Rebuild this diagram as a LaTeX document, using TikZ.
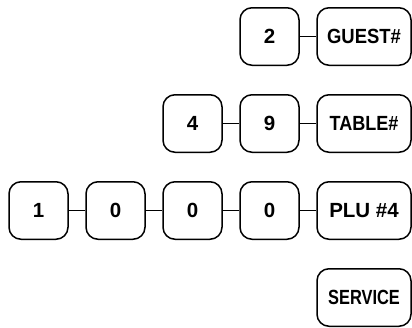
\documentclass[tikz,border=0pt]{standalone}
\usepackage{fontspec}
\setmainfont{Liberation Sans}
\usepackage{graphicx}
\newcommand{\narrowtext}[2]{\scalebox{#1}[1]{#2}}
\begin{document}
\begin{tikzpicture}[x=1pt, y=1pt,
    keycap/.style={draw, line width=1.5pt, rounded corners=12pt,
        minimum width=59pt, minimum height=57.5pt, inner sep=0pt,
        font=\fontsize{20.5}{20.5}\selectfont\bfseries},
    widekey/.style={keycap, minimum width=94pt},
    link/.style={line width=1.5pt}]
    \useasboundingbox (0,0) rectangle (412,-327);

    % Guest count
    \node[keycap] (g2) at (269.5,-36.5) {2};
    \node[widekey] (guest) at (364,-36.5) {\narrowtext{0.9}{GUEST\#}};
    \draw[link] (g2) -- (guest);

    % Table number
    \node[keycap] (t4) at (192.5,-123.5) {4};
    \node[keycap] (t9) at (269.5,-123.5) {9};
    \node[widekey] (table) at (364,-123.5) {\narrowtext{0.88}{TABLE\#}};
    \draw[link] (t4) -- (t9);
    \draw[link] (t9) -- (table);

    % PLU entry
    \node[keycap] (p1) at (38.5,-210.5) {1};
    \node[keycap] (p2) at (115.5,-210.5) {0};
    \node[keycap] (p3) at (192.5,-210.5) {0};
    \node[keycap] (p4) at (269.5,-210.5) {0};
    \node[widekey] (plu) at (364,-210.5) {PLU \#4};
    \draw[link] (p1) -- (p2);
    \draw[link] (p2) -- (p3);
    \draw[link] (p3) -- (p4);
    \draw[link] (p4) -- (plu);

    % Service
    \node[widekey] (service) at (364,-297.5) {\narrowtext{0.8}{SERVICE}};
\end{tikzpicture}
\end{document}
